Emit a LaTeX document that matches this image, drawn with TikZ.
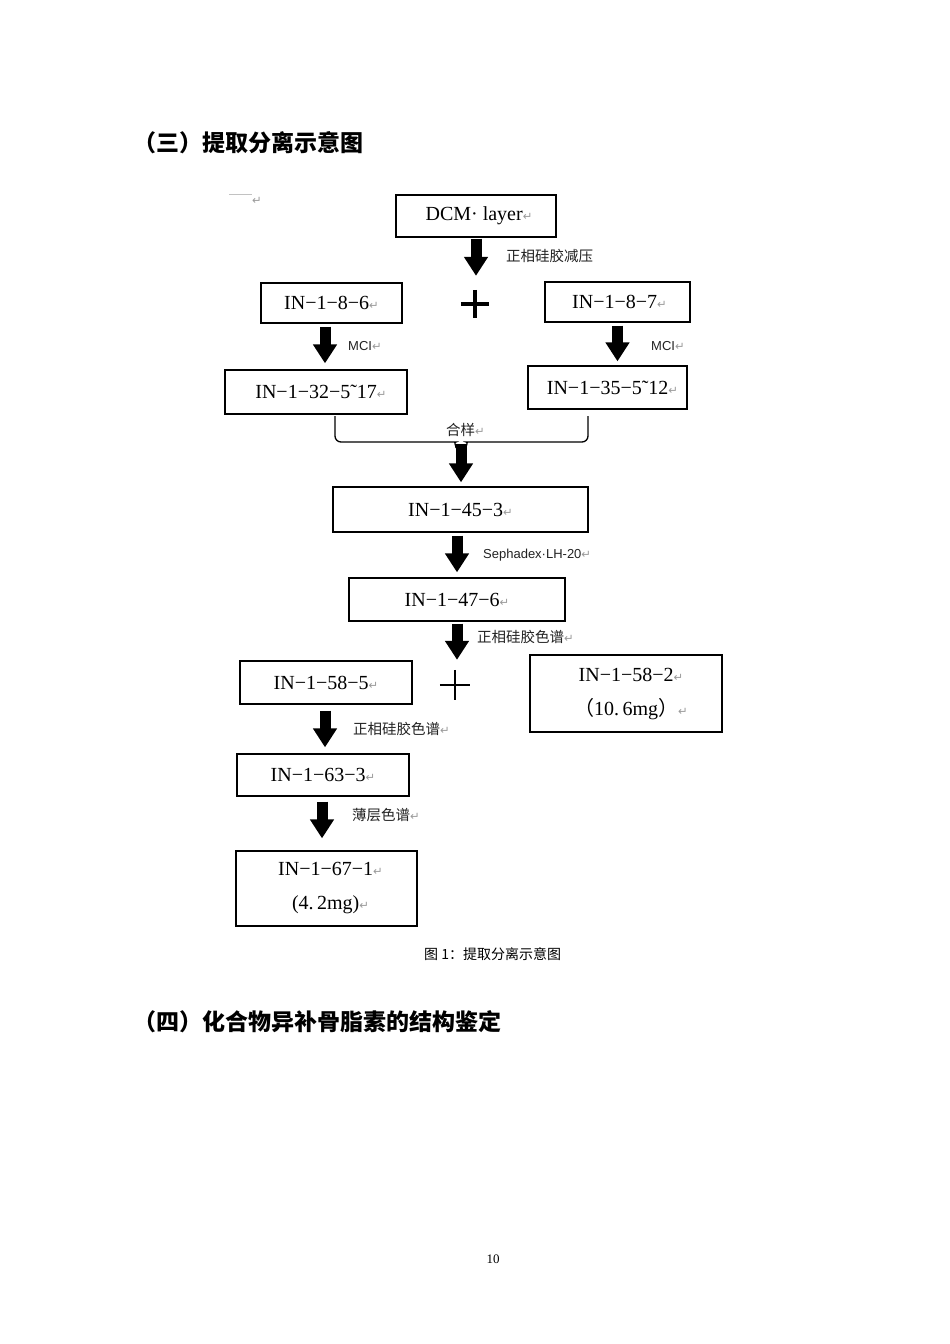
\documentclass[tikz,border=0pt]{standalone}
\usepackage{fontspec}
\usetikzlibrary{arrows.meta}
\setmainfont{Liberation Serif}
\newfontfamily\cjk{Noto Sans CJK SC}
\newfontfamily\sansf{Liberation Sans}
\newfontfamily\djv{DejaVu Sans}
\definecolor{retgray}{HTML}{9A9A9A}
\definecolor{labgray}{HTML}{222222}
\newcommand\pmark{{\djv\color{retgray}\fontsize{11.5}{11.5}\selectfont ↵}}
\tikzset{
  box/.style={draw, line width=1.3pt, inner sep=0pt, align=center,
    font=\fontsize{20}{34}\selectfont},
  barrow/.style={line width=11pt, -{Triangle[length=19pt,width=23pt]}},
  lab/.style={anchor=west, inner sep=0pt, text=labgray, font=\cjk\fontsize{14.5}{14.5}\selectfont},
  slab/.style={anchor=west, inner sep=0pt, text=labgray, font=\sansf\fontsize{13}{13}\selectfont},
  plusmark/.style={minimum size=#1, inner sep=0pt},
  heading/.style={anchor=west, inner sep=0pt, font=\cjk\bfseries\fontsize{23}{23}\selectfont}
}
\begin{document}
\begin{tikzpicture}[x=1pt,y=-1pt]
\useasboundingbox (0,0) rectangle (950,1344);
\fill[white] (0,0) rectangle (950,1344);

% headings
\node[heading] (h1) at (133,143) {（三）提取分离示意图};
\node[heading] (h2) at (133,1022) {（四）化合物异补骨脂素的结构鉴定};

% small mark top-left
\coordinate (ml) at (229,194);
\coordinate (mr) at (252,194);
\draw[retgray!60, line width=0.6pt] (ml) -- (mr);
\node[inner sep=0pt] (m0) at (257,201) {\pmark};

% boxes
\node[box, minimum width=160, minimum height=42] (dcm) at (476,216) {\hspace{6pt}DCM· layer\pmark};
\node[box, minimum width=141, minimum height=40] (in186) at (331.5,303) {IN−1−8−6\pmark};
\node[box, minimum width=145, minimum height=40] (in187) at (617.5,302) {\hspace{4pt}IN−1−8−7\pmark};
\node[box, minimum width=182, minimum height=44] (in1832) at (316,392) {\hspace{10pt}IN−1−32−5˜17\pmark};
\node[box, minimum width=159, minimum height=43] (in1835) at (607.5,387.5) {\hspace{10pt}IN−1−35−5˜12\pmark};
\node[box, minimum width=255, minimum height=45] (in1453) at (460.5,509.5) {IN−1−45−3\pmark};
\node[box, minimum width=216, minimum height=43] (in1476) at (457,599.5) {IN−1−47−6\pmark};
\node[box, minimum width=172, minimum height=43] (in1585) at (326,682.5) {IN−1−58−5\pmark};
\node[box, minimum width=192, minimum height=77] (in1582) at (626,693.5) {\hspace{10pt}IN−1−58−2\pmark\\\hspace{10pt}{\cjk （}10.\,6mg{\cjk ）}\pmark};
\node[box, minimum width=172, minimum height=42] (in1633) at (323,775) {IN−1−63−3\pmark};
\node[box, minimum width=181, minimum height=75] (in1671) at (326.5,888.5) {\hspace{8pt}IN−1−67−1\pmark\\\hspace{8pt}(4.\,2mg)\pmark};

% plus signs
\node[plusmark=28pt] (p1) at (475,304) {};
\draw[line width=4pt] (p1.north) -- (p1.south) (p1.west) -- (p1.east);
\node[plusmark=30pt] (p2) at (455,685) {};
\draw[line width=2.8pt] (p2.north) -- (p2.south) (p2.west) -- (p2.east);

% arrows
\draw[barrow, shorten <=1pt, shorten >=14pt] (dcm.south) -- (dcm.south |- p1.north);
\draw[barrow, shorten <=3pt, shorten >=6pt] ([xshift=-6.5pt]in186.south) -- ([xshift=-6.5pt]in186.south |- in1832.north);
\draw[barrow, shorten <=3pt, shorten >=4pt] (in187.south) -- (in187.south |- in1835.north);

% brace
\coordinate (bl) at (335,416);
\coordinate (br) at (588,416);
\coordinate (bmid) at (461,444);
\draw[line width=1.3pt, rounded corners=6pt] (bl) -- (335,442) -- (450,442) to[out=0,in=90] (456,448);
\draw[line width=1.3pt, rounded corners=6pt] (br) -- (588,442) -- (472,442) to[out=180,in=90] (466,448);
\draw[barrow, shorten >=4pt] (bmid) -- (bmid |- in1453.north);

\draw[barrow, shorten <=3pt, shorten >=5pt] (in1476.north |- in1453.south) -- (in1476.north);
\draw[barrow, shorten <=2pt, shorten >=10pt] (in1476.south) -- (in1476.south |- p2.north);
\draw[barrow, shorten <=6pt, shorten >=6pt] ([xshift=-1pt]in1585.south) -- ([xshift=-1pt]in1585.south |- in1633.north);
\draw[barrow, shorten <=5pt, shorten >=12pt] ([xshift=-1pt]in1633.south) -- ([xshift=-1pt]in1633.south |- in1671.north);

% labels
\node[lab] (l1) at (506,256) {正相硅胶减压};
\node[slab] (l2) at (348,346) {MCI\pmark};
\node[slab] (l3) at (651,346) {MCI\pmark};
\node[lab] (l4) at (446,430) {合样\pmark};
\node[slab] (l5) at (483,555) {Sephadex·LH-20\pmark};
\node[lab] (l6) at (477,637) {正相硅胶色谱\pmark};
\node[lab] (l7) at (353,729) {正相硅胶色谱\pmark};
\node[lab] (l8) at (352,815) {薄层色谱\pmark};

% caption and page number
\node[anchor=west, inner sep=0pt, font=\cjk\fontsize{14}{14}\selectfont] (cap) at (424,954) {图 1：提取分离示意图};
\node[inner sep=0pt, font=\fontsize{13}{13}\selectfont] (pg) at (493,1259) {10};
\end{tikzpicture}
\end{document}
